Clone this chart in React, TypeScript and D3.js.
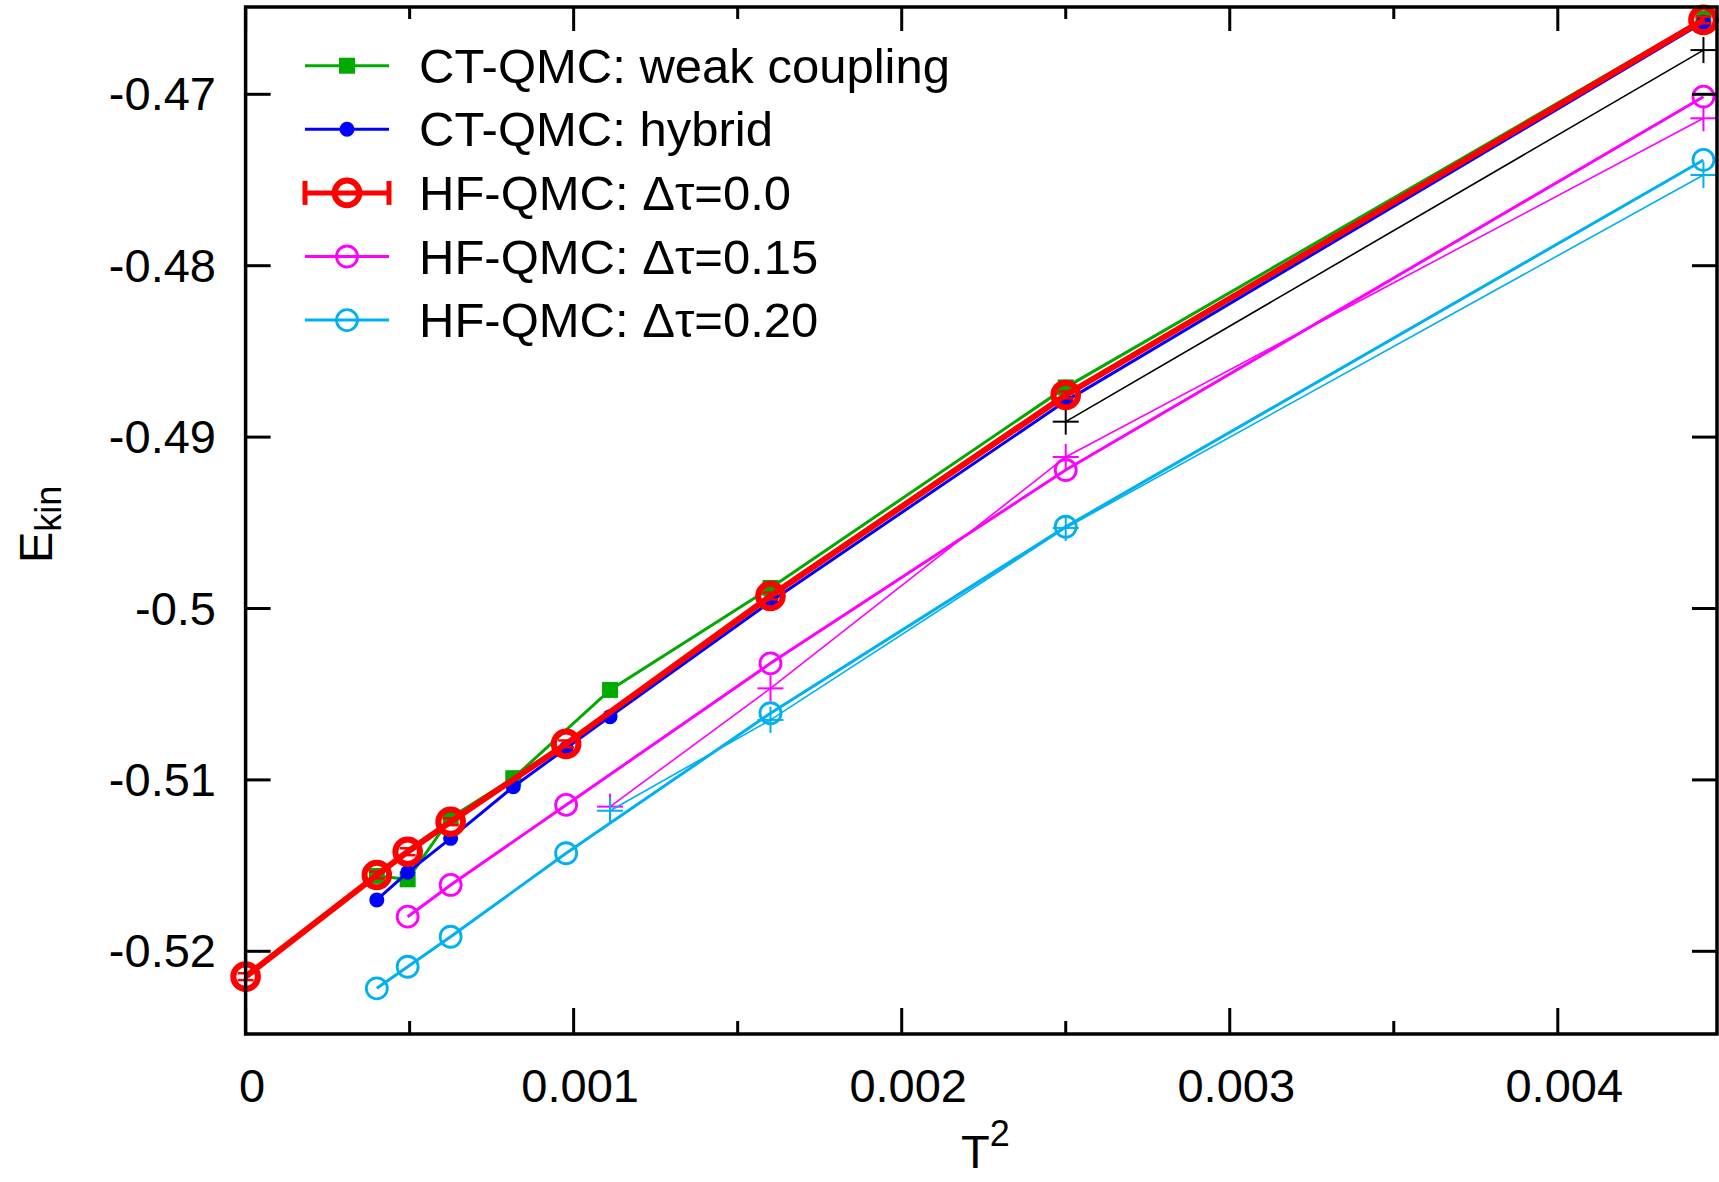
import React from 'react';
import * as d3 from 'd3';

// T^2 positions and E_kin values
const weakX = [0.0004, 0.000494, 0.000625, 0.000816, 0.001111, 0.0016, 0.0025, 0.004444];
const weakY = [-0.5156, -0.5158, -0.5122, -0.5099, -0.50475, -0.4988, -0.4871, -0.4656];

const hybX = [0.0004, 0.000494, 0.000625, 0.000816, 0.000977, 0.001111, 0.0016, 0.0025, 0.004444];
const hybY = [-0.517, -0.51539, -0.51341, -0.5104, -0.50816, -0.50631, -0.4996, -0.4879, -0.4658];

const hf0X = [0, 0.0004, 0.000494, 0.000625, 0.000977, 0.0016, 0.0025, 0.004444];
const hf0Y = [-0.52148, -0.51555, -0.51419, -0.51244, -0.5079, -0.49927, -0.48754, -0.46566];
const hf0Err = [0.0002, 0.0002, 0.0002, 0.0002, 0.0002, 0.0002, 0.0002, 0.0002];

const hf15X = [0.000494, 0.000625, 0.000977, 0.0016, 0.0025, 0.004444];
const hf15Y = [-0.51798, -0.51613, -0.51146, -0.5032, -0.49192, -0.47014];

const hf20X = [0.0004, 0.000494, 0.000625, 0.000977, 0.0016, 0.0025, 0.004444];
const hf20Y = [-0.52216, -0.5209, -0.51915, -0.51428, -0.50611, -0.49523, -0.47383];

const plusMagX = [0.001111, 0.0016, 0.0025, 0.004444];
const plusMagY = [-0.51156, -0.50466, -0.49116, -0.4714];
const plusCyanX = [0.001111, 0.0016, 0.0025, 0.004444];
const plusCyanY = [-0.5118, -0.5065, -0.4953, -0.47471];
const plusBlackX = [0.0025, 0.004444];
const plusBlackY = [-0.4891, -0.46742];

const xMajor = [0, 0.001, 0.002, 0.003, 0.004];
const xMajorLabels = ['0', '0.001', '0.002', '0.003', '0.004'];
const xMinor = [0.0005, 0.0015, 0.0025, 0.0035];
const yMajor = [-0.47, -0.48, -0.49, -0.5, -0.51, -0.52];
const yMajorLabels = ['-0.47', '-0.48', '-0.49', '-0.5', '-0.51', '-0.52'];

const legendLabels = [
  'CT-QMC: weak coupling',
  'CT-QMC: hybrid',
  'HF-QMC: \u0394\u03c4=0.0',
  'HF-QMC: \u0394\u03c4=0.15',
  'HF-QMC: \u0394\u03c4=0.20',
];

const GREEN = '#00aa00';
const BLUE = '#0000ff';
const RED = '#ff0000';
const MAGENTA = '#ff00ff';
const CYAN = '#00b0f0';

const W = 1719;
const H = 1182;
const L = 245.6;
const R = 1717;
const T = 7;
const B = 1034;
const FONT = '"Liberation Sans", Arial, Helvetica, sans-serif';
const FS = 47;
const LFS = 49;

const x = d3.scaleLinear().domain([0, 0.004]).range([245.6, 1557.8]);
const y = d3.scaleLinear().domain([-0.52, -0.47]).range([951.3, 94.3]);

const zip = (xs: number[], ys: number[]) => xs.map((v, i) => [v, ys[i]] as [number, number]);
const lineGen = d3.line<[number, number]>().x(d => x(d[0])).y(d => y(d[1]));

function Plus({ cx, cy, color, s = 13, w = 2 }: any) {
  return (
    <g stroke={color} strokeWidth={w}>
      <line x1={cx - s} x2={cx + s} y1={cy} y2={cy} />
      <line x1={cx} x2={cx} y1={cy - s} y2={cy + s} />
    </g>
  );
}

export default function App() {
  React.useEffect(() => {
    document.body.style.margin = '0';
  }, []);

  const weak = zip(weakX, weakY);
  const hyb = zip(hybX, hybY);
  const hf0 = zip(hf0X, hf0Y);
  const hf15 = zip(hf15X, hf15Y);
  const hf20 = zip(hf20X, hf20Y);
  const pm = zip(plusMagX, plusMagY);
  const pc = zip(plusCyanX, plusCyanY);
  const pb = zip(plusBlackX, plusBlackY);

  const legY0 = 65.7;
  const legDY = 63.6;
  const lx1 = 305, lx2 = 389, lmx = 347, ltx = 419;

  return (
    <svg width={W} height={H} style={{ display: 'block', position: 'absolute', left: 0, top: 0, background: '#fff' }}
      fontFamily={FONT}>
      <rect x={0} y={0} width={W} height={H} fill="#fff" />

      {/* thin + series */}
      <path d={lineGen(pb) || ''} fill="none" stroke="#000" strokeWidth={1.6} />
      {pb.map((d, i) => <Plus key={'pb' + i} cx={x(d[0])} cy={y(d[1])} color="#000" />)}

      {/* weak coupling */}
      <path d={lineGen(weak) || ''} fill="none" stroke={GREEN} strokeWidth={3} />
      {weak.map((d, i) => (
        <rect key={'w' + i} x={x(d[0]) - 8} y={y(d[1]) - 8} width={16} height={16} fill={GREEN} />
      ))}

      {/* hybrid */}
      <path d={lineGen(hyb) || ''} fill="none" stroke={BLUE} strokeWidth={3} />
      {hyb.map((d, i) => <circle key={'h' + i} cx={x(d[0])} cy={y(d[1])} r={7.5} fill={BLUE} />)}

      {/* HF dtau = 0 */}
      <path d={lineGen(hf0) || ''} fill="none" stroke={RED} strokeWidth={6} />
      {hf0.map((d, i) => {
        const cx = x(d[0]);
        const yt = y(d[1] + hf0Err[i]);
        const yb = y(d[1] - hf0Err[i]);
        return (
          <g key={'r' + i}>
            <circle cx={cx} cy={y(d[1])} r={12.3} fill="none" stroke={RED} strokeWidth={6} />
            <g stroke={RED} strokeWidth={2.5}>
              <line x1={cx} x2={cx} y1={yt} y2={yb} />
              <line x1={cx - 8} x2={cx + 8} y1={yt} y2={yt} />
              <line x1={cx - 8} x2={cx + 8} y1={yb} y2={yb} />
            </g>
          </g>
        );
      })}

      {/* thin magenta + */}
      <path d={lineGen(pm) || ''} fill="none" stroke={MAGENTA} strokeWidth={1.6} />
      {pm.map((d, i) => <Plus key={'pm' + i} cx={x(d[0])} cy={y(d[1])} color={MAGENTA} />)}

      {/* HF dtau = 0.15 */}
      <path d={lineGen(hf15) || ''} fill="none" stroke={MAGENTA} strokeWidth={3} />
      {hf15.map((d, i) => (
        <circle key={'m' + i} cx={x(d[0])} cy={y(d[1])} r={10.5} fill="none" stroke={MAGENTA} strokeWidth={2.8} />
      ))}

      {/* thin cyan + */}
      <path d={lineGen(pc) || ''} fill="none" stroke={CYAN} strokeWidth={1.6} />
      {pc.map((d, i) => <Plus key={'pc' + i} cx={x(d[0])} cy={y(d[1])} color={CYAN} />)}

      {/* HF dtau = 0.20 */}
      <path d={lineGen(hf20) || ''} fill="none" stroke={CYAN} strokeWidth={3} />
      {hf20.map((d, i) => (
        <circle key={'c' + i} cx={x(d[0])} cy={y(d[1])} r={10.5} fill="none" stroke={CYAN} strokeWidth={2.8} />
      ))}

      {/* frame */}
      <rect x={L} y={T} width={R - L} height={B - T} fill="none" stroke="#000" strokeWidth={3.5} />

      {/* x ticks */}
      {xMajor.map((v, i) => (
        <g key={'xm' + i}>
          <line x1={x(v)} x2={x(v)} y1={B} y2={B - 26} stroke="#000" strokeWidth={3} />
          <line x1={x(v)} x2={x(v)} y1={T} y2={T + 24} stroke="#000" strokeWidth={3} />
          <text x={x(v) + 6.5} y={1102} textAnchor="middle" fontSize={FS} fill="#000">{xMajorLabels[i]}</text>
        </g>
      ))}
      {xMinor.map((v, i) => (
        <g key={'xn' + i}>
          <line x1={x(v)} x2={x(v)} y1={B} y2={B - 13} stroke="#000" strokeWidth={3} />
          <line x1={x(v)} x2={x(v)} y1={T} y2={T + 12} stroke="#000" strokeWidth={3} />
        </g>
      ))}

      {/* y ticks */}
      {yMajor.map((v, i) => (
        <g key={'ym' + i}>
          <line x1={L} x2={L + 25} y1={y(v)} y2={y(v)} stroke="#000" strokeWidth={3} />
          <line x1={R} x2={R - 25} y1={y(v)} y2={y(v)} stroke="#000" strokeWidth={3} />
          <text x={216} y={y(v) + 16} textAnchor="end" fontSize={FS} fill="#000">{yMajorLabels[i]}</text>
        </g>
      ))}

      {/* axis labels */}
      <text transform="translate(52,563) rotate(-90)" fontSize={FS} fill="#000">
        E<tspan fontSize={36} dy={9}>kin</tspan>
      </text>
      <text x={961} y={1168} fontSize={FS} fill="#000">
        T<tspan fontSize={36} dy={-22}>2</tspan>
      </text>

      {/* legend */}
      {legendLabels.map((lab, i) => {
        const ly = legY0 + i * legDY;
        const colors = [GREEN, BLUE, RED, MAGENTA, CYAN];
        const c = colors[i];
        return (
          <g key={'lg' + i}>
            <line x1={lx1} x2={lx2} y1={ly} y2={ly} stroke={c} strokeWidth={i === 2 ? 5 : 3} />
            {i === 0 && <rect x={lmx - 8} y={ly - 8} width={16} height={16} fill={c} />}
            {i === 1 && <circle cx={lmx} cy={ly} r={7.5} fill={c} />}
            {i === 2 && (
              <g>
                <line x1={lx1} x2={lx1} y1={ly - 12} y2={ly + 12} stroke={c} strokeWidth={5} />
                <line x1={lx2} x2={lx2} y1={ly - 12} y2={ly + 12} stroke={c} strokeWidth={5} />
                <circle cx={lmx} cy={ly} r={12.3} fill="none" stroke={c} strokeWidth={6} />
              </g>
            )}
            {i > 2 && <circle cx={lmx} cy={ly} r={10.5} fill="none" stroke={c} strokeWidth={2.8} />}
            <text x={ltx} y={ly + 17} fontSize={LFS} fill="#000">{lab}</text>
          </g>
        );
      })}
    </svg>
  );
}
